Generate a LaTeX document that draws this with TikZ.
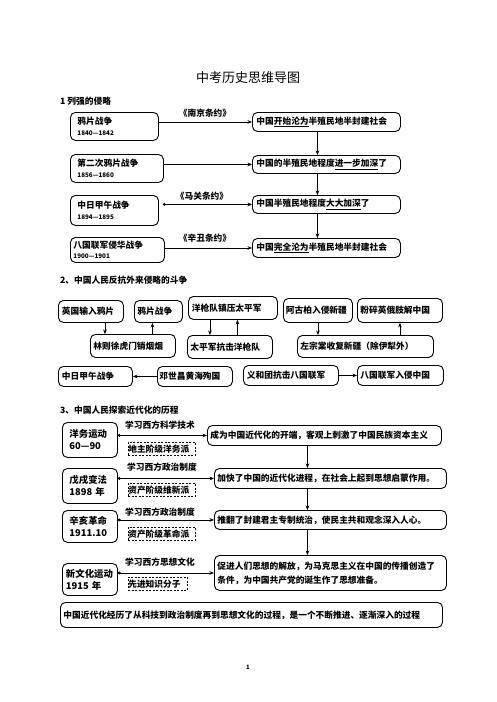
\documentclass[tikz,border=0pt]{standalone}
\usepackage{fontspec}
\setmainfont{Noto Sans CJK SC}
\usetikzlibrary{arrows.meta}
\newcommand{\datef}{\fontsize{6.3}{7}\selectfont}
\newcommand{\bigf}{\fontsize{9.4}{12}\selectfont}
\tikzset{
  txt/.style={font=\bfseries\fontsize{8.7}{10.5}\selectfont, inner sep=0pt},
  bx/.style={draw, rounded corners=5pt, line width=0.9pt, inner ysep=0pt, anchor=north west, align=left, txt},
  dbx/.style={draw, dash pattern=on 2pt off 1.5pt, line width=0.6pt, anchor=north west, align=left, inner xsep=1.5pt, inner ysep=0pt, minimum height=13pt, txt},
  arr/.style={-{Stealth[length=4.5pt,width=3.6pt]}, line width=0.6pt},
  darr/.style={{Circle[length=2.8pt]}-{Stealth[length=4.5pt,width=3.6pt]}, line width=0.6pt},
  head/.style={anchor=west, font=\bfseries\fontsize{8.7}{10}\selectfont, inner sep=0pt}
}
\begin{document}
\begin{tikzpicture}[x=1pt,y=-1pt]
\useasboundingbox (0,0) rectangle (496,702);
% title
\node[font=\fontsize{13}{15}\selectfont, inner sep=0pt] (title) at (248,78) {中考历史思维导图};
% ---------------- section 1
\node[head] (h1) at (60,101) {1 列强的侵略};
\node[bx, inner xsep=7pt, text width=74pt, minimum height=28pt] (A1) at (70,112) {鸦片战争\\{\datef 1840—1842}};
\node[bx, inner xsep=7pt, text width=79pt, minimum height=28pt] (A2) at (70,154) {第二次鸦片战争\\{\datef 1856—1860}};
\node[bx, inner xsep=7pt, text width=74pt, minimum height=30pt] (A3) at (70,195) {中日甲午战争\\{\datef 1894—1895}};
\node[bx, inner xsep=3pt, text width=88pt, minimum height=25pt] (A4) at (70,237) {八国联军侵华战争\\{\datef 1900—1901}};
\node[bx, inner xsep=4pt, text width=140pt, minimum height=19pt] (B1) at (252,112) {中国\underline{开始沦为}半殖民地半封建社会};
\node[bx, inner xsep=4pt, text width=140pt, minimum height=18pt] (B2) at (252,155) {中国的半殖民地程度\underline{进一步加深}了};
\node[bx, inner xsep=4pt, text width=140pt, minimum height=18pt] (B3) at (252,195) {中国半殖民地程度\underline{大大加深}了};
\node[bx, inner xsep=4pt, text width=140pt, minimum height=19pt] (B4) at (252,238) {中国\underline{完全沦为}半殖民地半封建社会};
\node[txt] (t1) at (205,113) {《南京条约》};
\node[txt] (t2) at (202,196) {《马关条约》};
\node[txt] (t3) at (205,238) {《辛丑条约》};
\draw[arr] (A1.east |- B1.west) -- (B1.west);
\draw[arr] (A2.east |- B2.west) -- (B2.west);
\draw[darr] ([xshift=4pt]A3.east |- B3.west) -- (B3.west);
\draw[arr] (A4.east |- B4.west) -- (B4.west);
\draw[arr] ([xshift=-9pt]B1.south) -- ([xshift=-9pt]B2.north);
\draw[arr] ([xshift=-9pt]B2.south) -- ([xshift=-9pt]B3.north);
\draw[arr] ([xshift=-9pt]B3.south) -- ([xshift=-9pt]B4.north);
% ---------------- section 2
\node[head] (h2) at (60,280) {2、中国人民反抗外来侵略的斗争};
\node[bx, inner xsep=3.5pt, text width=58pt, minimum height=22pt] (C1) at (58,300) {英国输入鸦片};
\node[bx, inner xsep=3pt, text width=42pt, minimum height=22pt] (C2) at (134,300) {鸦片战争};
\node[bx, inner xsep=3.5pt, text width=82pt, minimum height=23pt] (C3) at (188,296) {洋枪队镇压太平军};
\node[bx, inner xsep=3pt, text width=79pt, minimum height=23pt] (C4) at (90,334) {林则徐虎门销烟烟};
\node[bx, inner xsep=3pt, text width=79pt, minimum height=23pt] (C5) at (187,335) {太平军抗击洋枪队};
\node[bx, inner xsep=2.5pt, text width=64pt, minimum height=24pt] (C6) at (283,298) {阿古柏入侵新疆};
\node[bx, inner xsep=3pt, text width=79pt, minimum height=24pt] (C7) at (357,298) {粉碎英俄肢解中国};
\node[bx, inner xsep=3pt, text width=130pt, minimum height=22pt] (C8) at (297,335) {左宗棠收复新疆（除伊犁外）};
\node[bx, inner xsep=3.5pt, text width=67pt, minimum height=20pt] (D1) at (58,366) {中日甲午战争};
\node[bx, inner xsep=2pt, text width=71pt, minimum height=20pt] (D2) at (157,366) {邓世昌黄海殉国};
\node[bx, inner xsep=3.5pt, text width=88pt, minimum height=20pt] (D3) at (243,365) {义和团抗击八国联军};
\node[bx, inner xsep=3pt, text width=80pt, minimum height=20pt] (D4) at (357,365) {八国联军入侵中国};
\draw[arr] ([xshift=14pt]C1.south) -- ([xshift=14pt]C1.south |- C4.north);
\draw[arr] ([xshift=-6pt]C2.south |- C4.north) -- ([xshift=-6pt]C2.south);
\draw[arr] ([xshift=-23pt]C3.south) -- ([xshift=-23pt]C3.south |- C5.north);
\draw[arr] ([xshift=4.5pt]C3.south |- C5.north) -- ([xshift=4.5pt]C3.south);
\draw[arr] (C6.south) -- (C6.south |- C8.north);
\draw[arr] (C7.south |- C8.north) -- (C7.south);
\draw[arr] (D2.west) -- (D1.east);
\draw[arr] (D3.east) -- (D4.west);
% ---------------- section 3
\node[head] (h3) at (60,410) {3、中国人民探索近代化的历程};
\node[bx, inner xsep=7pt, text width=41pt, minimum height=35pt, font=\bfseries\bigf] (E1) at (62,422) {洋务运动\\60—90};
\node[bx, inner xsep=7pt, text width=41pt, minimum height=35pt, font=\bfseries\bigf] (E2) at (62,468) {戊戌变法\\1898 年};
\node[bx, inner xsep=7pt, text width=41pt, minimum height=32pt, font=\bfseries\bigf] (E3) at (62,510) {辛亥革命\\1911.10};
\node[bx, inner xsep=3.5pt, text width=48pt, minimum height=32pt, font=\bfseries\bigf] (E4) at (62,563) {新文化运动\\1915 年};
\node[txt] (L1) at (160,425) {学习西方科学技术};
\node[txt] (L2) at (162,467) {学习西方政治制度};
\node[txt] (L3) at (160,512) {学习西方政治制度};
\node[txt] (L4) at (160,562) {学习西方思想文化};
\node[dbx, text width=67pt] (P1) at (128,442) {地主阶级洋务派};
\node[dbx, text width=67pt] (P2) at (128,483) {资产阶级维新派};
\node[dbx, text width=67pt] (P3) at (128,527) {资产阶级革命派};
\node[dbx, text width=59pt] (P4) at (128,577) {先进知识分子};
\node[bx, inner xsep=3pt, text width=228pt, minimum height=20pt] (F1) at (207,425) {成为中国近代化的开端，客观上刺激了中国民族资本主义};
\node[bx, inner xsep=3pt, text width=226pt, minimum height=20pt] (F2) at (214,468) {加快了中国的近代化进程，在社会上起到思想启蒙作用。};
\node[bx, inner xsep=3pt, text width=226pt, minimum height=19pt] (F3) at (214,510) {推翻了封建君主专制统治，使民主共和观念深入人心。};
\node[bx, inner xsep=3pt, text width=226pt, minimum height=35pt, font=\bfseries\fontsize{8.7}{14}\selectfont] (F4) at (214,555) {促进人们思想的解放，为马克思主义在中国的传播创造了\\条件，为中国共产党的诞生作了思想准备。};
\draw[darr] (E1.east |- F1.west) -- (F1.west);
\draw[darr] (E2.east |- F2.west) -- (F2.west);
\draw[darr] (E3.east |- F3.west) -- (F3.west);
\draw[darr] (E4.east |- F4.west) -- (F4.west);
\draw[arr] ([xshift=-17pt]F1.south) -- ([xshift=-17pt]F1.south |- F2.north);
\draw[arr] ([xshift=-23pt]F2.south) -- ([xshift=-23pt]F3.north);
\draw[arr] ([xshift=-23pt]F3.south) -- ([xshift=-23pt]F4.north);
\node[bx, inner xsep=3pt, text width=376pt, minimum height=25pt] (G) at (60,602) {中国近代化经历了从科技到政治制度再到思想文化的过程，是一个不断推进、逐渐深入的过程};
% page number
\node[font=\bfseries\fontsize{6}{7}\selectfont, inner sep=0pt] (pg) at (248,667) {1};
\end{tikzpicture}
\end{document}
